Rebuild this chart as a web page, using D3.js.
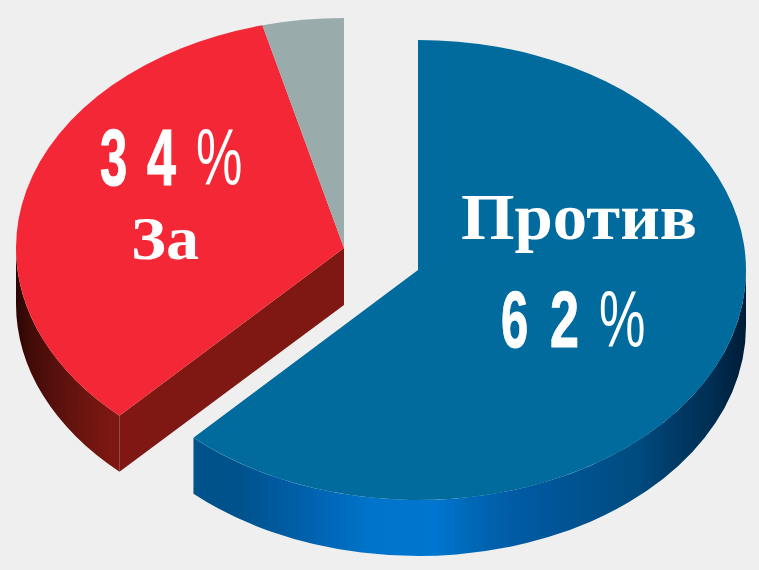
<!DOCTYPE html>
<html><head><meta charset="utf-8">
<script src="https://cdn.jsdelivr.net/npm/d3@7"></script>
<style>html,body{margin:0;padding:0;background:#efefef}svg{display:block}</style>
</head><body><svg id="c" width="759" height="570"></svg>
<script>
const categories = ["Против", "За", "Другое"];
const values = [62, 34, 4];
const percentDigits = [["6", "2"], ["3", "4"]];
const topColors = ["#006b9c", "#f32735", "#9aabab"];

const rx = 328, ry = 230, depth = 56;
const centers = [[418, 270], [344, 248], [344, 248]];

const svg = d3.select("#c");
const defs = svg.append("defs");

function grad(id, stops) {
  const g = defs.append("linearGradient").attr("id", id)
    .attr("gradientUnits", "userSpaceOnUse").attr("x1", 0).attr("x2", 759).attr("y1", 0).attr("y2", 0);
  stops.forEach(s => g.append("stop").attr("offset", s[0] / 759).attr("stop-color", s[1]));
}
grad("blueWall", [[196, "#00528a"], [240, "#00528c"], [310, "#0062ae"], [370, "#0074ca"], [435, "#0076d0"], [470, "#0068b8"], [510, "#005ca6"], [580, "#005290"], [640, "#004a7e"], [675, "#003a66"], [710, "#002f54"], [746, "#001c36"]]);
grad("redWall", [[16, "#2a0604"], [30, "#420b08"], [60, "#5a110d"], [90, "#701510"], [110, "#7c1711"], [122, "#7f1812"], [344, "#7f1812"]]);

const pie = d3.pie().sort(null).value(d => d);
const arcs = pie(values);
const arcGen = d3.arc().innerRadius(0).outerRadius(rx);

const pt = (i, a) => [centers[i][0] + rx * Math.sin(a), centers[i][1] - ry * Math.cos(a)];

function wall(i, a0, a1, fill) {
  const p0 = pt(i, a0), p1 = pt(i, a1);
  const d = `M${p0[0]},${p0[1]} A${rx},${ry} 0 0 1 ${p1[0]},${p1[1]} L${p1[0]},${p1[1] + depth} A${rx},${ry} 0 0 0 ${p0[0]},${p0[1] + depth} Z`;
  svg.append("path").attr("d", d).attr("fill", fill);
}
wall(0, Math.PI / 2, arcs[0].endAngle, "url(#blueWall)");
wall(1, arcs[1].startAngle, 3 * Math.PI / 2, "url(#redWall)");
{
  const c = centers[1], p = pt(1, arcs[1].startAngle);
  svg.append("path")
    .attr("d", `M${c[0]},${c[1]} L${p[0]},${p[1]} L${p[0]},${p[1] + depth} L${c[0]},${c[1] + depth + 1} Z`)
    .attr("fill", "#7f1812");
}
svg.selectAll("path.top").data(arcs).join("path").attr("class", "top")
  .attr("d", arcGen)
  .attr("transform", (d, i) => `translate(${centers[i][0]},${centers[i][1]}) scale(1,${ry / rx})`)
  .attr("fill", (d, i) => topColors[i]);

function glyph(txt, x, y, sx, weight, stroke) {
  svg.append("text").attr("transform", `translate(${x},${y}) scale(${sx},1)`)
    .attr("font-family", "'Liberation Sans'").attr("font-size", 79).attr("font-weight", weight)
    .attr("fill", "#fff").attr("stroke", "#fff").attr("stroke-width", stroke).text(txt);
}
function pct(digits, x0, x1, x2, y) {
  glyph(digits[0], x0, y, 0.62, 700, 1);
  glyph(digits[1], x1, y, 0.66, 700, 1);
  glyph("%", x2, y, 0.66, 400, 0);
}
function word(txt, x, y, size, len) {
  svg.append("text").attr("x", x).attr("y", y).attr("font-family", "'Liberation Serif'")
    .attr("font-weight", 700).attr("font-size", size).attr("fill", "#fff")
    .attr("textLength", len).attr("lengthAdjust", "spacingAndGlyphs").text(txt);
}
pct(percentDigits[1], 100, 147, 196, 185);
word(categories[1], 131, 259, 62, 68);
word(categories[0], 461, 239, 66, 236);
pct(percentDigits[0], 501, 550, 599, 347);
</script></body></html>
